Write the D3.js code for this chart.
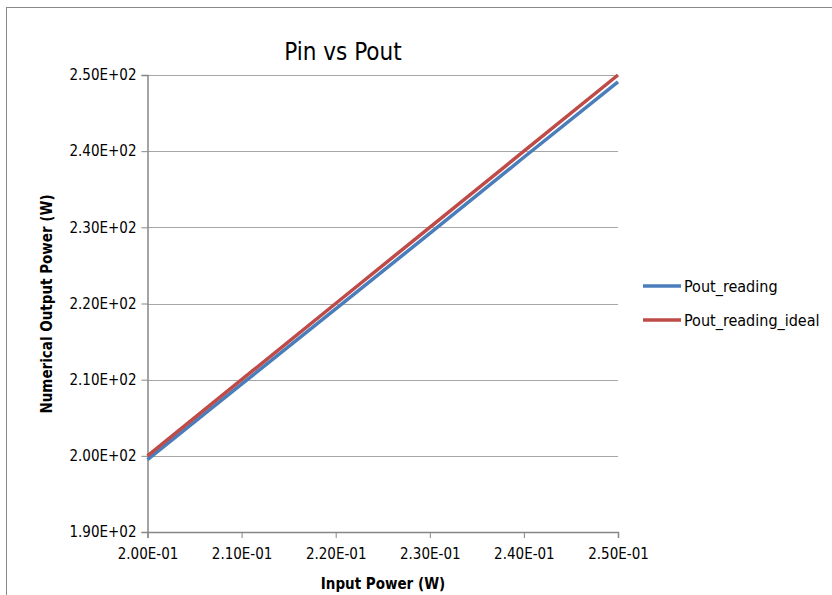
<html>
<head>
<meta charset="utf-8">
<style>
 body { margin: 0; background: #fff; }
 text { font-family: "DejaVu Sans Condensed", "Liberation Sans Narrow", "Noto Sans", sans-serif; fill: #000; }
</style>
</head>
<body>
<script src="https://d3js.org/d3.v7.min.js"></script>
<script>
 var pin = [0.20, 0.21, 0.22, 0.23, 0.24, 0.25];
 var poutReading = [199.5, 209.4, 219.3, 229.2, 239.2, 249.1];
 var poutIdeal = [200, 210, 220, 230, 240, 250];
 var xTicks = [0.20, 0.21, 0.22, 0.23, 0.24, 0.25];
 var yTicks = [190, 200, 210, 220, 230, 240, 250];
 var seriesNames = ["Pout_reading", "Pout_reading_ideal"];
 var seriesColors = ["#4a7ebb", "#be4b48"];

 var svg = d3.select("body").append("svg")
     .attr("width", 832).attr("height", 595);

 // outer chart frame
 svg.append("rect").attr("x", 6.5).attr("y", 7.5)
    .attr("width", 900).attr("height", 700)
    .attr("fill", "none").attr("stroke", "#888").attr("stroke-width", 1);

 var x = d3.scaleLinear().domain([0.20, 0.25]).range([147.5, 618]);
 var y = d3.scaleLinear().domain([190, 250]).range([532, 75]);

 // grid
 svg.selectAll("line.grid").data(yTicks.slice(1)).enter().append("line")
    .attr("class", "grid")
    .attr("x1", x(0.20)).attr("x2", x(0.25))
    .attr("y1", function(d){ return Math.round(y(d)) + 0.5; })
    .attr("y2", function(d){ return Math.round(y(d)) + 0.5; })
    .attr("stroke", "#a6a6a6").attr("stroke-width", 1);

 var fmt = function(d){ return d.toExponential(2).replace("e", "E").replace(/E([+-])(\d)$/, "E$10$2"); };

 var yAxis = svg.append("g").attr("transform", "translate(" + x(0.20) + ",0)")
    .call(d3.axisLeft(y).tickValues(yTicks).tickSize(6).tickPadding(5).tickFormat(fmt));
 var xAxis = svg.append("g").attr("transform", "translate(0," + y(190) + ")")
    .call(d3.axisBottom(x).tickValues(xTicks).tickSize(6).tickPadding(10).tickFormat(fmt));
 [xAxis, yAxis].forEach(function(a){
   a.selectAll("path, line").attr("stroke", "#868686");
   a.select("path").attr("stroke-width", 1.5);
   a.selectAll("text").style("font-size", "15px").attr("fill", "#000");
 });

 var line = d3.line()
    .x(function(d, i){ return x(pin[i]); })
    .y(function(d){ return y(d); });

 [poutReading, poutIdeal].forEach(function(s, i){
   svg.append("path").datum(s)
      .attr("d", line)
      .attr("fill", "none")
      .attr("stroke", seriesColors[i])
      .attr("stroke-width", 3.5);
 });

 // title
 svg.append("text").attr("x", 343).attr("y", 60)
    .attr("text-anchor", "middle").style("font-size", "24px").text("Pin vs Pout");

 // axis titles
 svg.append("text").attr("x", 383).attr("y", 589)
    .attr("text-anchor", "middle").style("font-size", "15px").style("font-weight", "bold")
    .text("Input Power (W)");
 svg.append("text").attr("transform", "translate(52,304) rotate(-90)")
    .attr("text-anchor", "middle").style("font-size", "15px").style("font-weight", "bold")
    .text("Numerical Output Power (W)");

 // legend
 var lg = svg.selectAll("g.legend").data(seriesNames).enter().append("g")
    .attr("class", "legend")
    .attr("transform", function(d, i){ return "translate(643," + (286 + i * 34) + ")"; });
 lg.append("line").attr("x1", 0).attr("x2", 38).attr("y1", 0).attr("y2", 0)
    .attr("stroke", function(d, i){ return seriesColors[i]; }).attr("stroke-width", 3.5);
 lg.append("text").attr("x", 41).attr("y", 6).style("font-size", "16px").text(function(d){ return d; });
</script>
</body>
</html>
